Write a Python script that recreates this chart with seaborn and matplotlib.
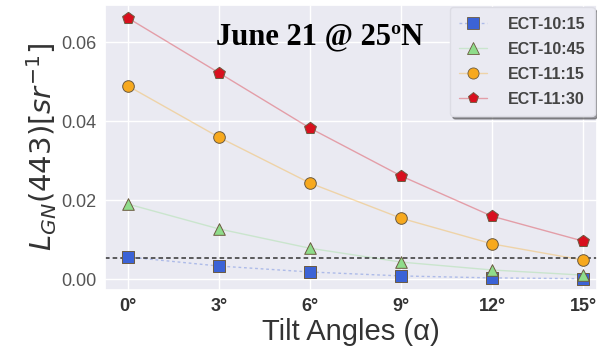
import numpy as np
import pandas as pd
import matplotlib
matplotlib.use("Agg")
import matplotlib.pyplot as plt
from matplotlib.lines import Line2D
import seaborn as sns

# tilt angles (deg) and L_GN(443) values
tilt = [0, 3, 6, 9, 12, 15]
tick_labels = ["0°", "3°", "6°", "9°", "12°", "15°"]
ect_1015 = [0.0056, 0.0033, 0.0018, 0.0008, 0.0003, 0.0001]
ect_1045 = [0.0190, 0.0127, 0.0078, 0.0043, 0.0023, 0.0010]
ect_1115 = [0.0489, 0.0359, 0.0243, 0.0154, 0.0089, 0.0048]
ect_1130 = [0.0661, 0.0522, 0.0382, 0.0261, 0.0159, 0.0096]
threshold = 0.0053

series_names = ["ECT-10:15", "ECT-10:45", "ECT-11:15", "ECT-11:30"]
series_vals = [ect_1015, ect_1045, ect_1115, ect_1130]

df = pd.DataFrame({
    "tilt": tilt * 4,
    "value": sum(series_vals, []),
    "series": np.repeat(series_names, len(tilt)),
})

colors = ["#3c63d6", "#8fdc8a", "#f7a91e", "#d8101e"]
markers = ["s", "^", "o", "p"]
line_styles = [(0, (2, 2)), "-", "-", "-"]
msizes = [65, 70, 70, 80]

sns.set_theme(style="darkgrid")
plt.rcParams["font.family"] = ["Liberation Sans", "DejaVu Sans"]

fig = plt.figure(figsize=(5.97, 3.5), dpi=100)
ax = fig.add_axes([0.176, 0.171, 0.824, 0.815])
ax.set_facecolor("#eaeaf2")

handles = []
for name, col, mk, ls, ms in zip(series_names, colors, markers, line_styles, msizes):
    sub = df[df["series"] == name]
    # faint connecting line
    sns.lineplot(data=sub, x="tilt", y="value", ax=ax, color=col, linewidth=1.0,
                 linestyle=ls, alpha=0.35, legend=False)
    # solid markers
    sns.scatterplot(data=sub, x="tilt", y="value", ax=ax, color=col, marker=mk,
                    s=ms, edgecolor="#6b5a40", linewidth=0.7, legend=False, zorder=3)
    c = matplotlib.colors.to_rgba(col)
    handles.append(Line2D([], [], color=(c[0], c[1], c[2], 0.35), linestyle=ls, linewidth=1.0,
                          marker=mk, markersize=8, markerfacecolor=c[:3],
                          markeredgecolor="#6b5a40", markeredgewidth=0.6, label=name))

ax.axhline(threshold, color="#333333", linestyle="--", linewidth=1.1, dashes=(3, 2), zorder=2.5)

ax.set_xlim(-0.75, 15.45)
ax.set_ylim(-0.0028, 0.0694)
ax.set_xticks(tilt)
ax.set_xticklabels(tick_labels, fontsize=13, fontweight="bold", color="#333333")
ax.set_yticks([0.0, 0.02, 0.04, 0.06])
ax.set_yticklabels(["0.00", "0.02", "0.04", "0.06"], fontsize=13, color="#555555")
ax.tick_params(axis="both", length=0, pad=6)

ax.set_xlabel("Tilt Angles (α)", fontsize=21, color="#333333", labelpad=2)
ax.set_ylabel(r"$L_{GN}(443)[sr^{-1}]$", fontsize=21, color="#333333", labelpad=2)

ax.text(6.3, 0.0612, "June 21 @ 25ºN", fontsize=22, fontweight="bold",
        family=["Liberation Serif", "DejaVu Serif"], color="black", ha="center", va="center")

leg = ax.legend(handles=handles, loc="upper right", fontsize=11.5, frameon=True, shadow=True,
                handlelength=1.7, borderpad=0.6, labelspacing=0.62, handletextpad=1.3,
                facecolor="#eaeaf2", edgecolor="#dcdce4", borderaxespad=0.15)
for t in leg.get_texts():
    t.set_fontweight("bold")
    t.set_color("#444444")

plt.savefig("out.png", dpi=100)
plt.close()
